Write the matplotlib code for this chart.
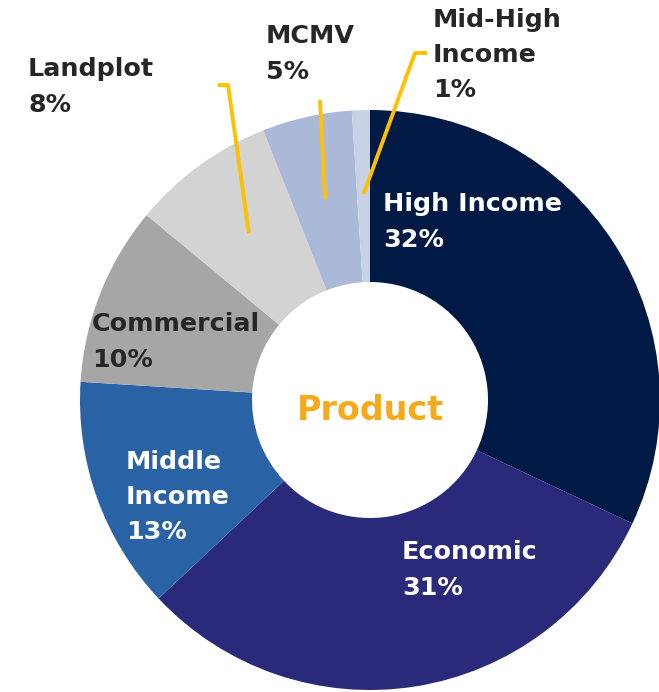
import numpy as np
import matplotlib.pyplot as plt

# product mix (share of total, %)
labels = ["High Income", "Economic", "Middle\nIncome", "Commercial", "Landplot", "MCMV", "Mid-High\nIncome"]
shares = [32, 31, 13, 10, 8, 5, 1]
colors = ["#001A45", "#2B2A7A", "#2A62A6", "#A6A6A6", "#D3D3D3", "#AAB9D7", "#C8D2E5"]

W, H = 659, 692
fig = plt.figure(figsize=(W / 100, H / 100), dpi=100)
ax = fig.add_axes([0, 0, 1, 1])

cx, cy, R = 370, H - 400, 290
wedges, _ = ax.pie(shares, colors=colors, startangle=90, counterclock=False,
                   radius=R, center=(cx, cy), frame=True,
                   wedgeprops=dict(width=R - 118, linewidth=0))
ax.set_xlim(0, W)
ax.set_ylim(0, H)
ax.axis("off")

font = dict(fontsize=18.3, fontweight="bold", family="DejaVu Sans", linespacing=1.6)
dark = "#262626"

def label_text(i):
    return labels[i] + "\n" + str(shares[i]) + "%"

# labels inside the ring (white) and beside it (dark)
inside = {0: (383, 222, "white"), 1: (402, 570, "white"), 2: (126, 497, "white"), 3: (92, 342, dark)}
for i, (x, y, c) in inside.items():
    ax.text(x, H - y, label_text(i), color=c, ha="left", va="center", **font)

# small slices get outside labels with leader lines
outside = {4: (28, 87, (218, 85), (228, 85)),
           5: (266, 54, None, None),
           6: (433, 55, (427, 53), (415, 53))}
cum = np.cumsum([0] + shares)
for i, (x, y, p0, p1) in outside.items():
    ax.text(x, H - y, label_text(i), color=dark, ha="left", va="center", **font)
    mid = (cum[i] + cum[i + 1]) / 2 / 100 * 2 * np.pi
    ex, ey = cx + 206 * np.sin(mid), cy + 206 * np.cos(mid)
    if p0 is None:
        xs, ys = [320, ex], [H - 100, ey]
    else:
        xs, ys = [p0[0], p1[0], ex], [H - p0[1], H - p1[1], ey]
    ax.plot(xs, ys, color="#FFC000", lw=2.8, solid_capstyle="butt")

ax.text(cx, H - 410, "Product", color="#F7A81B", ha="center", va="center",
        fontsize=24, fontweight="bold", family="DejaVu Sans")

fig.savefig("out.png", dpi=100)
